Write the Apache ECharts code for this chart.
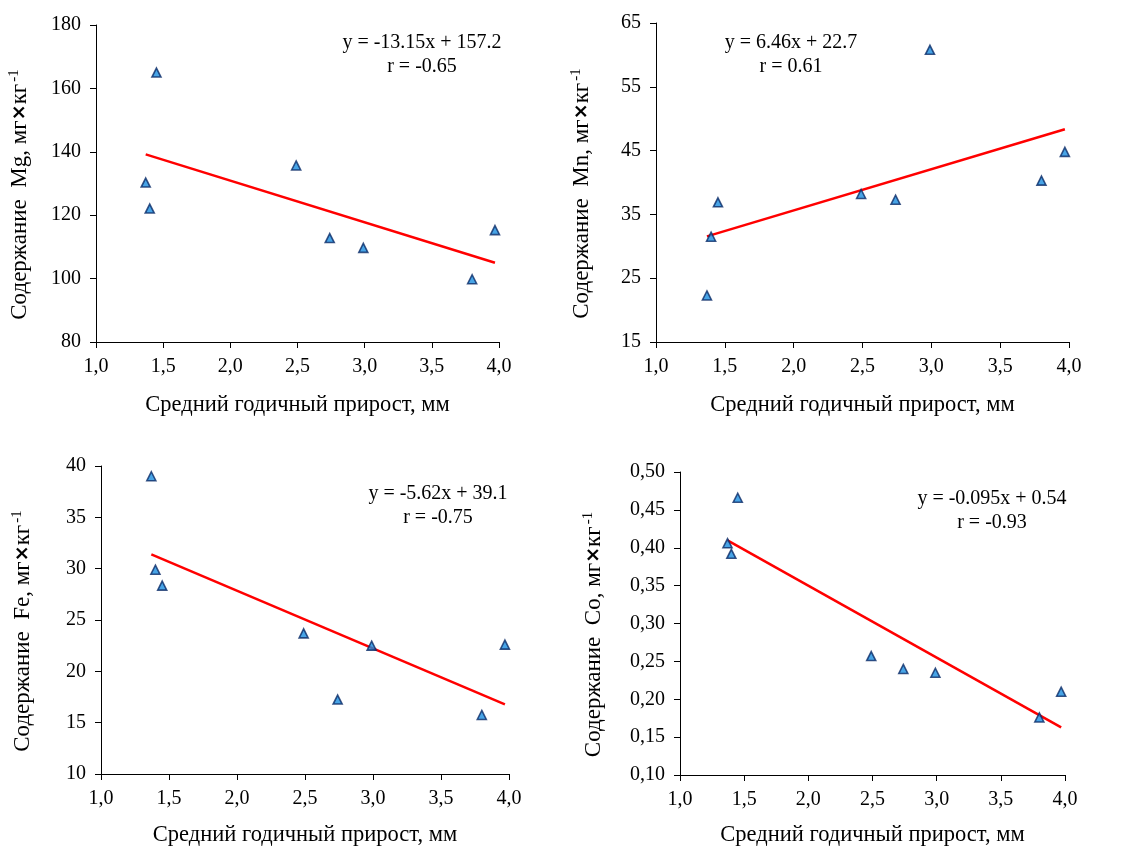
<!DOCTYPE html>
<html>
<head>
<meta charset="utf-8">
<script src="https://cdn.jsdelivr.net/npm/echarts@6/dist/echarts.min.js"></script>
<style>
  html, body { margin: 0; padding: 0; background: #fff; }
  #chart { width: 1127px; height: 847px; }
</style>
</head>
<body>
<div id="chart"></div>
<script>
// Mean annual growth of the trees, mm (shared x values)
const growth = [1.37, 1.40, 1.45, 2.49, 2.74, 2.99, 3.80, 3.97];

// Element contents, mg/kg
const mg = [130.3, 122.1, 165.0, 135.7, 112.8, 109.7, 99.8, 115.3];
const mn = [22.3, 31.5, 36.9, 38.2, 37.3, 60.8, 40.3, 44.8];
const fe = [39.0, 29.9, 28.35, 23.7, 17.25, 22.5, 15.75, 22.6];
const co = [0.406, 0.392, 0.466, 0.257, 0.240, 0.235, 0.176, 0.210];

// Regression coefficients and correlation
const slopes = [-13.15, 6.46, -5.62, -0.095];
const intercepts = [157.2, 22.7, 39.1, 0.54];
const corr = ['-0.65', '0.61', '-0.75', '-0.93'];
const slopeText = ['-13.15', '6.46', '-5.62', '-0.095'];
const interceptText = ['157.2', '22.7', '39.1', '0.54'];

const elements = ['Mg', 'Mn', 'Fe', 'Co'];
const series = [mg, mn, fe, co];

// Axis ranges
const yMin = [80, 15, 10, 0.10];
const yMax = [180, 65, 40, 0.50];
const yStep = [20, 10, 5, 0.05];
const yDecimals = [0, 0, 0, 2];

const xTitle = 'Средний годичный прирост, мм';
const FONT = '"Liberation Serif", "Times New Roman", serif';

const grids = [
  { left: 96, top: 25, width: 403, height: 317 },
  { left: 656, top: 23, width: 413, height: 319 },
  { left: 101, top: 466, width: 408, height: 308 },
  { left: 680, top: 472, width: 385, height: 303 }
].map(g => Object.assign(g, { outerBoundsMode: 'none', containLabel: false }));
const yNameGap = [63, 61, 65, 73];
const xNameGap = [52, 52, 50, 49];
const eqPos = [[422, 44], [791, 44], [438, 495], [992, 500]];

const axisLine = { show: true, lineStyle: { color: '#000', width: 1 } };
const axisTick = { show: true, length: 6, inside: false, lineStyle: { color: '#000', width: 1 } };

const xAxes = [], yAxes = [], allSeries = [], graphics = [];

for (let i = 0; i < 4; i++) {
  xAxes.push({
    type: 'value', gridIndex: i, min: 1.0, max: 4.0, interval: 0.5,
    axisLine, axisTick, splitLine: { show: false },
    axisLabel: {
      color: '#000', fontFamily: FONT, fontSize: 20, margin: 15,
      formatter: v => v.toFixed(1).replace('.', ',')
    },
    name: xTitle, nameLocation: 'middle', nameGap: xNameGap[i],
    nameTextStyle: { color: '#000', fontFamily: FONT, fontSize: 22.5 }
  });
  const dec = yDecimals[i];
  yAxes.push({
    type: 'value', gridIndex: i, min: yMin[i], max: yMax[i], interval: yStep[i],
    axisLine, axisTick, splitLine: { show: false },
    axisLabel: {
      color: '#000', fontFamily: FONT, fontSize: 20, margin: 15,
      formatter: v => v.toFixed(dec).replace('.', ',')
    },
    name: '{t|Содержание  ' + elements[i] + ', мг}{x|×}{t|кг}{s|-1}',
    nameLocation: 'middle', nameGap: yNameGap[i], nameRotate: 90,
    nameTextStyle: {
      color: '#000', fontFamily: FONT, fontSize: 23, padding: [0, 22, 0, 0],
      rich: {
        t: { fontFamily: FONT, fontSize: 23, color: '#000' },
        x: { fontFamily: 'DejaVu Sans', fontSize: 19, fontWeight: 'bold', color: '#000' },
        s: { fontFamily: FONT, fontSize: 15, color: '#000', padding: [0, 0, 11, 2] }
      }
    }
  });

  allSeries.push({
    type: 'scatter', xAxisIndex: i, yAxisIndex: i,
    data: growth.map((g, k) => [g, series[i][k]]),
    symbol: 'triangle', symbolSize: [9, 9],
    itemStyle: { color: '#1a8de0', borderColor: '#0a2a66', borderWidth: 1.6 },
    z: 3
  });

  // Regression line across the observed growth range
  const x0 = Math.min(...growth), x1 = Math.max(...growth);
  allSeries.push({
    type: 'line', xAxisIndex: i, yAxisIndex: i,
    data: [[x0, slopes[i] * x0 + intercepts[i]], [x1, slopes[i] * x1 + intercepts[i]]],
    symbol: 'none', lineStyle: { color: '#ff0000', width: 2.5 }, z: 2
  });

  graphics.push({
    type: 'text', x: eqPos[i][0], y: eqPos[i][1] + 11,
    style: {
      text: 'y = ' + slopeText[i] + 'x + ' + interceptText[i] + '\nr = ' + corr[i],
      fill: '#000', font: '20px ' + FONT, align: 'center', verticalAlign: 'middle',
      lineHeight: 24
    }
  });
}

const chart = echarts.init(document.getElementById('chart'));
chart.setOption({
  animation: false,
  backgroundColor: '#fff',
  grid: grids,
  xAxis: xAxes,
  yAxis: yAxes,
  series: allSeries,
  graphic: graphics
});
</script>
</body>
</html>
